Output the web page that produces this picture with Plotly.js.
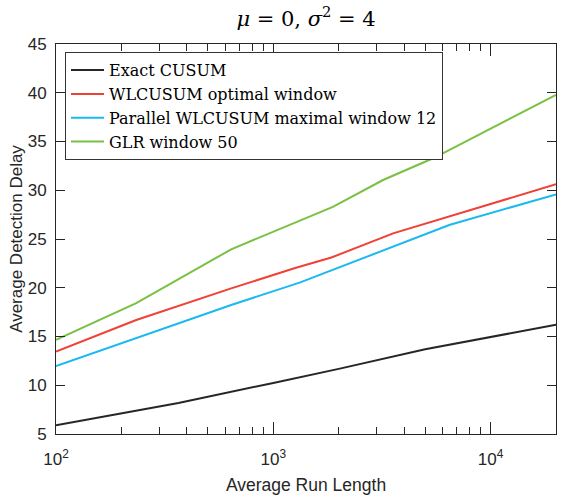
<!DOCTYPE html>
<html>
<head>
<meta charset="utf-8">
<script src="https://cdn.plot.ly/plotly-3.0.1.min.js"></script>
<style>html,body{margin:0;padding:0;background:#fff;}#chart{width:565px;height:498px;}</style>
</head>
<body>
<div id="chart"></div>
<script>
// Series names
const seriesNames = ["Exact CUSUM", "WLCUSUM optimal window", "Parallel WLCUSUM maximal window 12", "GLR window 50"];

// Average Run Length (x) and Average Detection Delay (y)
const arlCusum = [100, 366, 1000, 2000, 5000, 10000, 20000];
const addCusum = [5.9, 8.18, 10.24, 11.68, 13.7, 14.95, 16.2];

const arlWl = [100, 234, 640, 1250, 1850, 3560, 20000];
const addWl = [13.45, 16.69, 19.94, 22.0, 23.1, 25.58, 30.62];

const arlPar = [100, 640, 1321, 6450, 20000];
const addPar = [11.97, 18.23, 20.52, 26.44, 29.58];

const arlGlr = [100, 234, 640, 1880, 3200, 5440, 20000];
const addGlr = [14.65, 18.42, 23.94, 28.3, 31.05, 33.28, 39.77];

// Axis ticks
const xMajorVals = [100, 1000, 10000];
const xMajorText = ["10<sup>2</sup>", "10<sup>3</sup>", "10<sup>4</sup>"];
const xMinorVals = [200,300,400,500,600,700,800,900,2000,3000,4000,5000,6000,7000,8000,9000];
const yTickVals = [5,10,15,20,25,30,35,40,45];

const colors = ["#262626", "#ef4136", "#1bb9ee", "#79c043"];
const xs = [arlCusum, arlWl, arlPar, arlGlr];
const ys = [addCusum, addWl, addPar, addGlr];

const traces = seriesNames.map((n, i) => ({
  type: "scatter", mode: "lines", name: n,
  x: xs[i], y: ys[i],
  line: {color: colors[i], width: 2},
  xaxis: "x", yaxis: "y"
}));

const axisColor = "#262626";
const sans = "Liberation Sans";
const layout = {
  width: 565, height: 498,
  margin: {l: 56, r: 9, t: 44, b: 64},
  paper_bgcolor: "#fff", plot_bgcolor: "#fff",
  showlegend: true,
  title: {
    text: "<i>μ</i> = 0, <i>σ</i><sup>2</sup> = 4",
    font: {family: "DejaVu Serif", size: 21, color: "#000"},
    x: 0.5417, xanchor: "center", y: 0.962, yanchor: "middle"
  },
  xaxis: {
    type: "log", range: [2, Math.log10(20000)],
    tickvals: xMajorVals, ticktext: xMajorText,
    ticks: "inside", ticklen: 12, tickwidth: 1, tickcolor: axisColor,
    ticklabelstandoff: 10,
    showline: true, linecolor: axisColor, linewidth: 1, mirror: "ticks",
    showgrid: false, zeroline: false,
    tickfont: {family: sans, size: 17, color: "#262626"},
    title: {text: "Average Run Length", font: {family: sans, size: 17.5, color: "#262626"}, standoff: 10}
  },
  xaxis2: {
    type: "log", range: [2, Math.log10(20000)], overlaying: "x", anchor: "y", side: "bottom",
    tickvals: xMinorVals, showticklabels: false,
    ticks: "inside", ticklen: 7, tickwidth: 1, tickcolor: axisColor,
    showline: false, mirror: "ticks", showgrid: false, zeroline: false
  },
  yaxis: {
    range: [5, 45], tickvals: yTickVals,
    ticks: "inside", ticklen: 9, tickwidth: 1, tickcolor: axisColor,
    ticklabelstandoff: 5,
    showline: true, linecolor: axisColor, linewidth: 1, mirror: "ticks",
    showgrid: false, zeroline: false,
    tickfont: {family: sans, size: 17, color: "#262626"},
    title: {text: "Average Detection Delay", font: {family: sans, size: 17, color: "#262626"}, standoff: 0}
  },
  legend: {
    x: 0.018, y: 0.979, xanchor: "left", yanchor: "top",
    bgcolor: "#fff", bordercolor: "#333", borderwidth: 1,
    font: {family: "DejaVu Serif", size: 16, color: "#000"},
    itemwidth: 33, tracegroupgap: 0
  }
};

// dummy trace to activate minor-tick overlay axis
traces.push({type: "scatter", mode: "lines", x: [100, 20000], y: [null, null], xaxis: "x2", yaxis: "y", showlegend: false, hoverinfo: "skip"});

Plotly.newPlot("chart", traces, layout, {staticPlot: true});
</script>
</body>
</html>
